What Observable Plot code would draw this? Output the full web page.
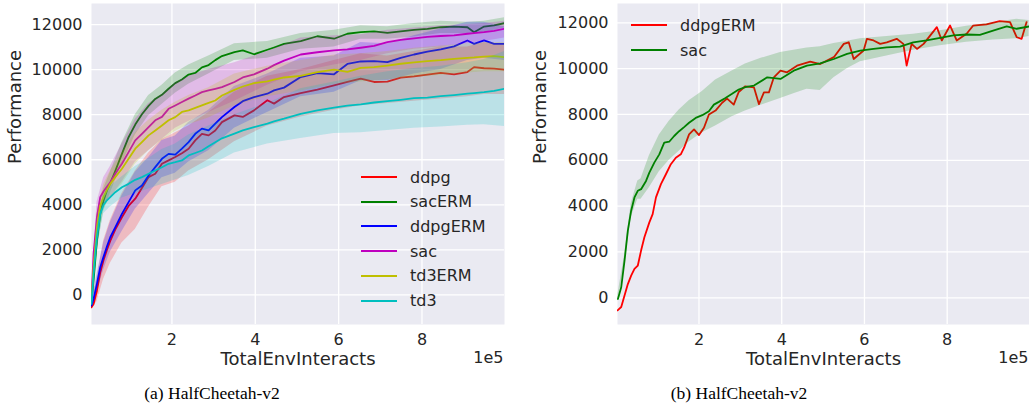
<!DOCTYPE html>
<html><head><meta charset="utf-8">
<script src="https://cdn.jsdelivr.net/npm/d3@7"></script>
<script src="https://cdn.jsdelivr.net/npm/@observablehq/plot@0.6"></script>
<style>
body{margin:0;background:#fff;width:1029px;height:416px;position:relative;overflow:hidden;font-family:"DejaVu Sans",sans-serif;color:#262626}
.panel{position:absolute;top:0}
.row{position:absolute;display:flex;align-items:center;white-space:nowrap;font-size:16px;height:20px;transform:translateY(-50%)}
.sw{display:inline-block;width:36px;height:2px;margin-right:13px}
.cap{position:absolute;font-family:"Liberation Serif",serif;font-size:17.5px;color:#000;transform:translate(-50%,-50%);white-space:nowrap}
</style></head><body>
<div id="a" class="panel" style="left:0"></div>
<div id="b" class="panel" style="left:516px"></div>
<div id="legA"></div>
<div id="legB"></div>
<div class="cap" style="left:212px;top:393px">(a) HalfCheetah-v2</div>
<div class="cap" style="left:739px;top:393px">(b) HalfCheetah-v2</div>
<script>
// ---------- shared ticks ----------
const yTicks = [0, 2000, 4000, 6000, 8000, 10000, 12000];
const xTicks = [200000, 400000, 600000, 800000];
const xLabel = "TotalEnvInteracts";
const yLabel = "Performance";
const xOffsetText = "1e5";

// ---------- panel (a) ----------
const seriesA = ["ddpg", "sacERM", "ddpgERM", "sac", "td3ERM", "td3"];
const colorsA = ["#FF0000", "#008000", "#0000FF", "#BF00BF", "#BFBF00", "#00BFBF"];
const xA = [7000, 12000, 20000, 28000, 36000, 44000, 52000, 64000, 80000, 96000, 112000, 128000, 144000, 160000, 176000, 192000, 208000, 224000, 240000, 256000, 272000, 288000, 304000, 320000, 350000, 370000, 397000, 429000, 445000, 469000, 509000, 549000, 589000, 621000, 653000, 685000, 717000, 749000, 781000, 813000, 845000, 877000, 909000, 925000, 949000, 973000, 998000];
const ddpgA    = [-550, -400, 190, 1000, 1550, 2000, 2400, 2900, 3450, 3950, 4270, 4750, 5230, 5380, 5820, 5970, 6120, 6290, 6490, 6860, 7150, 7080, 7300, 7670, 7970, 7900, 8190, 8640, 8490, 8780, 8960, 9110, 9300, 9450, 9600, 9450, 9470, 9640, 9700, 9780, 9850, 9790, 9890, 10110, 10060, 10040, 10000];
const sacERMA  = [-300, 640, 2400, 3600, 4190, 4640, 4950, 5500, 6260, 7000, 7560, 8020, 8390, 8700, 8880, 9150, 9400, 9560, 9780, 9850, 10100, 10200, 10420, 10600, 10780, 10850, 10680, 10880, 10980, 11140, 11260, 11480, 11370, 11590, 11660, 11700, 11630, 11700, 11760, 11810, 11880, 11910, 11880, 11660, 11910, 11960, 12060];
const ddpgERMA = [-470, -180, 490, 1230, 1700, 2150, 2560, 3000, 3600, 4120, 4640, 4860, 5300, 5670, 6040, 6260, 6230, 6490, 6780, 7150, 7380, 7300, 7600, 7890, 8340, 8600, 8780, 8930, 9080, 9200, 9670, 9845, 9790, 10250, 10360, 10380, 10330, 10520, 10670, 10800, 10900, 11030, 11290, 11140, 11300, 11140, 11140];
const sacA     = [-100, 1820, 3450, 4340, 4600, 4800, 5000, 5380, 5820, 6340, 6860, 7150, 7450, 7750, 7900, 8260, 8410, 8560, 8710, 8850, 9000, 9080, 9150, 9220, 9450, 9650, 9790, 10040, 10200, 10400, 10670, 10770, 10850, 10900, 10970, 11050, 11220, 11320, 11390, 11450, 11490, 11520, 11590, 11620, 11660, 11720, 11810];
const td3ERMA  = [-250, 1230, 3000, 3970, 4350, 4650, 4930, 5230, 5600, 6040, 6490, 6780, 7080, 7300, 7520, 7750, 7890, 8120, 8190, 8300, 8410, 8520, 8630, 8850, 9100, 9250, 9400, 9480, 9550, 9650, 9720, 9890, 10000, 9900, 10080, 10110, 10180, 10260, 10320, 10380, 10420, 10480, 10520, 10540, 10580, 10600, 10550];
const td3A     = [-400, 930, 2560, 3600, 4000, 4200, 4340, 4560, 4780, 4930, 5110, 5230, 5380, 5520, 5670, 5820, 5890, 5970, 6190, 6300, 6410, 6600, 6780, 6950, 7160, 7300, 7450, 7600, 7700, 7820, 8040, 8190, 8310, 8400, 8460, 8540, 8600, 8660, 8730, 8760, 8820, 8870, 8930, 8960, 9000, 9060, 9150];

const bandXA = [7000, 20000, 36000, 52000, 80000, 112000, 144000, 176000, 208000, 240000, 288000, 350000, 429000, 509000, 589000, 653000, 717000, 781000, 845000, 909000, 949000, 998000];
const ddpgLoA    = [-650, -300, 700, 1400, 2300, 2900, 3900, 4800, 5000, 5500, 6000, 6800, 7500, 7900, 8200, 8400, 8500, 8600, 8700, 8800, 8900, 8900];
const ddpgHiA    = [-400, 700, 2400, 3300, 4500, 5500, 6300, 6900, 7200, 7500, 8100, 9000, 9700, 10000, 10400, 10700, 10600, 10800, 11000, 11000, 11200, 11100];
const sacERMLoA  = [-500, 1900, 3700, 4500, 5800, 7100, 7950, 8450, 8950, 9350, 9800, 10400, 10500, 10900, 11000, 11350, 11350, 11450, 11600, 11600, 11650, 11850];
const sacERMHiA  = [-100, 2900, 4700, 5450, 6750, 8000, 8850, 9300, 9850, 10200, 10600, 11150, 11250, 11600, 11750, 11950, 11900, 12050, 12150, 12100, 12150, 12300];
const ddpgERMLoA = [-600, 100, 1100, 1900, 2800, 3800, 4500, 5200, 5400, 5900, 6400, 7400, 8100, 8800, 9000, 9500, 9500, 9800, 10000, 10400, 10500, 10400];
const ddpgERMHiA = [-350, 900, 2300, 3200, 4400, 5450, 6100, 6850, 7050, 7650, 8200, 9250, 9800, 10500, 10600, 11200, 11150, 11500, 11800, 12100, 12100, 11900];
const sacLoA     = [-300, 2700, 3900, 4300, 5000, 5900, 6400, 6900, 7400, 7700, 8100, 8600, 9300, 9900, 10200, 10400, 10700, 10900, 11000, 11150, 11250, 11400];
const sacHiA     = [100, 4100, 5200, 5700, 6700, 7800, 8500, 8900, 9400, 9700, 10000, 10300, 10800, 11400, 11500, 11550, 11750, 11850, 11950, 12000, 12050, 12150];
const td3ERMLoA  = [-450, 2400, 3800, 4300, 4900, 5800, 6400, 6850, 7250, 7550, 7850, 8400, 8800, 9050, 9350, 9450, 9550, 9650, 9750, 9850, 9900, 9900];
const td3ERMHiA  = [-50, 3600, 4900, 5500, 6300, 7200, 7750, 8200, 8550, 8850, 9200, 9800, 10150, 10400, 10650, 10700, 10800, 10950, 11050, 11150, 11200, 11200];
const td3LoA     = [-550, 2100, 3600, 3900, 4300, 4500, 4700, 4900, 5100, 5300, 5700, 6300, 6700, 6940, 7160, 7200, 7300, 7400, 7450, 7530, 7550, 7480];
const td3HiA     = [-250, 3000, 4400, 4800, 5250, 5700, 6050, 6450, 6700, 7100, 7500, 8000, 8500, 9150, 9450, 9700, 9900, 10050, 10150, 10300, 10450, 10800];

// ---------- panel (b) ----------
const seriesB = ["ddpgERM", "sac"];
const colorsB = ["#FF0000", "#008000"];
const xDdpgERMB = [3000, 12000, 20000, 28000, 36000, 44000, 52000, 60000, 68000, 80000, 88000, 96000, 108000, 120000, 132000, 144000, 156000, 164000, 176000, 188000, 200000, 212000, 224000, 240000, 256000, 268000, 284000, 296000, 312000, 333000, 345000, 357000, 369000, 381000, 397000, 413000, 437000, 469000, 493000, 526000, 550000, 562000, 574000, 598000, 606000, 622000, 638000, 654000, 678000, 694000, 702000, 714000, 727000, 743000, 775000, 787000, 807000, 823000, 847000, 863000, 895000, 927000, 952000, 968000, 980000, 992000];
const ddpgERMB = [-550, -400, 100, 600, 970, 1260, 1400, 2060, 2640, 3290, 3650, 4380, 4960, 5390, 5830, 6110, 6260, 6550, 7130, 7350, 7100, 7420, 8000, 8170, 8510, 8690, 8430, 8980, 9230, 9180, 8450, 8960, 8960, 9620, 9910, 9840, 10130, 10310, 10200, 10500, 11080, 11150, 10420, 10790, 11300, 11230, 11080, 11150, 11300, 11080, 10130, 11080, 10860, 11080, 11810, 11230, 11880, 11230, 11520, 11880, 11930, 12070, 12030, 11370, 11300, 12030];
const xSacB = [4000, 12000, 20000, 28000, 36000, 44000, 52000, 60000, 72000, 80000, 92000, 104000, 116000, 128000, 140000, 152000, 164000, 176000, 192000, 208000, 224000, 236000, 248000, 264000, 280000, 296000, 312000, 333000, 365000, 397000, 429000, 461000, 493000, 526000, 558000, 590000, 622000, 654000, 686000, 718000, 750000, 783000, 815000, 847000, 879000, 911000, 944000, 968000, 998000];
const sacB = [-50, 460, 1620, 2930, 3800, 4380, 4670, 4740, 5100, 5460, 5900, 6260, 6770, 6810, 7060, 7270, 7450, 7640, 7850, 7970, 8140, 8430, 8550, 8720, 8900, 9090, 9190, 9260, 9620, 9550, 9910, 10130, 10230, 10420, 10640, 10790, 10860, 10930, 10960, 11150, 11230, 11340, 11450, 11490, 11470, 11660, 11840, 11740, 11840];
const bandXSacB = [4000, 20000, 36000, 52000, 60000, 80000, 104000, 128000, 152000, 176000, 208000, 240000, 280000, 312000, 350000, 397000, 429000, 461000, 493000, 526000, 558000, 590000, 654000, 718000, 783000, 847000, 911000, 968000, 998000];
const sacLoB = [-150, 1400, 3500, 4300, 4300, 4800, 5500, 6000, 6400, 6800, 7200, 7500, 7900, 8150, 8400, 8700, 8900, 9100, 9050, 9600, 10000, 10300, 10550, 10800, 11000, 11150, 11250, 11300, 11400];
const sacHiB = [150, 1850, 4100, 5100, 5200, 6200, 7100, 7700, 8200, 8600, 9000, 9500, 9900, 10200, 10450, 10700, 10800, 10900, 10950, 11100, 11200, 11300, 11400, 11500, 11650, 11850, 12000, 12150, 12100];

// ---------- build ----------
const toPts = (xs, ys) => xs.map((x, i) => ({x, y: ys[i]}));
const toBand = (xs, lo, hi) => xs.map((x, i) => ({x, lo: lo[i], hi: hi[i]}));

const specA = [
  {line: toPts(xA, ddpgA),    band: toBand(bandXA, ddpgLoA, ddpgHiA)},
  {line: toPts(xA, sacERMA),  band: toBand(bandXA, sacERMLoA, sacERMHiA)},
  {line: toPts(xA, ddpgERMA), band: toBand(bandXA, ddpgERMLoA, ddpgERMHiA)},
  {line: toPts(xA, sacA),     band: toBand(bandXA, sacLoA, sacHiA)},
  {line: toPts(xA, td3ERMA),  band: toBand(bandXA, td3ERMLoA, td3ERMHiA)},
  {line: toPts(xA, td3A),     band: toBand(bandXA, td3LoA, td3HiA)}
].map((d, i) => ({...d, color: colorsA[i]}));

const specB = [
  {line: toPts(xDdpgERMB, ddpgERMB), band: null, color: colorsB[0]},
  {line: toPts(xSacB, sacB), band: toBand(bandXSacB, sacLoB, sacHiB), color: colorsB[1]}
];

function makePanel({width, marginLeft, marginRight, xDomain, yDomain, specs, ylabDx}) {
  const marks = [
    Plot.frame({fill: "#EAEAF2", stroke: "none"}),
    Plot.gridY(yTicks, {stroke: "#ffffff", strokeOpacity: 1, strokeWidth: 1.3}),
    Plot.gridX(xTicks, {stroke: "#ffffff", strokeOpacity: 1, strokeWidth: 1.3})
  ];
  for (const s of specs) {
    if (s.band) marks.push(Plot.areaY(s.band, {x: "x", y1: "lo", y2: "hi", fill: s.color, fillOpacity: 0.2, clip: true}));
    marks.push(Plot.line(s.line, {x: "x", y: "y", stroke: s.color, strokeWidth: 1.8, clip: true}));
  }
  marks.push(
    Plot.axisX(xTicks, {tickSize: 0, tickPadding: 9, tickFormat: d => String(d / 1e5), label: null, fontSize: 16}),
    Plot.axisY(yTicks, {tickSize: 0, tickPadding: 9, tickFormat: d => String(d), label: null, fontSize: 16}),
    Plot.text([xLabel], {frameAnchor: "bottom", dy: 40, fontSize: 18, fill: "#262626"}),
    Plot.text([yLabel], {frameAnchor: "left", dx: ylabDx, rotate: -90, fontSize: 18, fill: "#262626"}),
    Plot.text([xOffsetText], {frameAnchor: "bottom-right", dy: 38, dx: -1, textAnchor: "end", fontSize: 16, fill: "#262626"})
  );
  return Plot.plot({
    width, height: 372, marginTop: 3, marginBottom: 48, marginLeft, marginRight,
    x: {domain: xDomain, label: null},
    y: {domain: yDomain, label: null},
    style: {fontFamily: "DejaVu Sans", fontSize: "16px", color: "#262626", background: "transparent", overflow: "visible"},
    marks
  });
}

document.getElementById("a").append(makePanel({
  width: 515, marginLeft: 91, marginRight: 11,
  xDomain: [7000, 998000], yDomain: [-1311, 12933], specs: specA, ylabDx: -76
}));
document.getElementById("b").append(makePanel({
  width: 513, marginLeft: 101, marginRight: 0,
  xDomain: [3000, 999000], yDomain: [-1165, 12842], specs: specB, ylabDx: -77
}));

// ---------- legends ----------
function legend(el, names, colors, left, top0, step) {
  names.forEach((n, i) => {
    const r = document.createElement("div");
    r.className = "row";
    r.style.left = left + "px";
    r.style.top = (top0 + i * step) + "px";
    const sw = document.createElement("span");
    sw.className = "sw";
    sw.style.background = colors[i];
    r.append(sw, document.createTextNode(n));
    el.append(r);
  });
}
legend(document.getElementById("legA"), seriesA, colorsA, 361, 177, 24.7);
legend(document.getElementById("legB"), seriesB, colorsB, 631, 25, 25);
</script>
</body></html>
